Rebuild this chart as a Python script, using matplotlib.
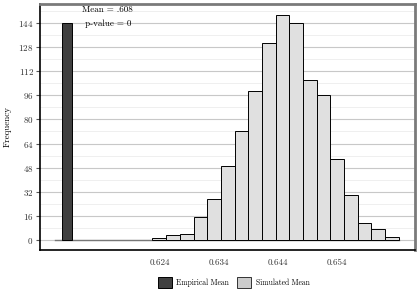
import matplotlib
matplotlib.use("Agg")
import matplotlib.pyplot as plt
from matplotlib.patches import Patch
from matplotlib.ticker import MultipleLocator

# Données
sim_counts = [1, 3, 4, 15, 27, 49, 72, 99, 131, 149, 144, 106, 96, 54, 30, 11, 7, 2]
sim_start = 0.62276
sim_width = 0.002317
emp_mean = 0.6083
emp_count = 144
emp_width = 0.0016
x_ticks = [0.624, 0.634, 0.644, 0.654]
y_ticks = [0, 16, 32, 48, 64, 80, 96, 112, 128, 144]

plt.rcParams['font.family'] = ['cmr10', 'DejaVu Serif']
plt.rcParams['axes.formatter.use_mathtext'] = True

fig = plt.figure(figsize=(4.2, 3), dpi=100)
ax = fig.add_axes([0.095, 0.167, 0.893, 0.82])

sim_x = [sim_start + i * sim_width for i in range(len(sim_counts))]
ax.bar(sim_x, sim_counts, width=sim_width, align='edge', color='#e0e0e0',
       edgecolor='black', linewidth=0.7, zorder=3)
ax.bar([emp_mean], [emp_count], width=emp_width, color='#404040',
       edgecolor='black', linewidth=0.7, zorder=3)
ax.plot([0.6063, sim_x[-1] + sim_width], [0, 0], color='#777777', lw=1, zorder=2)

ax.set_xlim(0.6037, 0.6672)
ax.set_ylim(-6.6, 156.7)
ax.set_xticks(x_ticks)
ax.set_xticklabels(['0.624', '0.634', '0.644', '0.654'])
ax.set_yticks(y_ticks)
ax.yaxis.set_minor_locator(MultipleLocator(8))
ax.tick_params(axis='both', which='major', labelsize=6.5, length=3,
               color='#555555', labelcolor='#333333', pad=1.5)
ax.tick_params(axis='y', which='minor', length=0)
ax.tick_params(axis='x', length=0, pad=6)

# Grille horizontale
ax.grid(axis='y', which='major', color='#c8c8c8', lw=0.8, zorder=0)
ax.grid(axis='y', which='minor', color='#ececec', lw=0.6, zorder=0)
ax.set_axisbelow(True)

for side in ['left', 'bottom']:
    ax.spines[side].set_color('black')
    ax.spines[side].set_linewidth(1.2)
for side in ['top', 'right']:
    ax.spines[side].set_color('#7a7a7a')
    ax.spines[side].set_linewidth(2)

ax.set_ylabel("Frequency", fontsize=6.5, labelpad=5)

ax.text(0.6152, 152.6, "Mean = .608", ha='center', va='center', fontsize=6.5)
ax.text(0.6152, 143.3, "p-value = 0", ha='center', va='center', fontsize=6.5)

handles = [Patch(facecolor='#404040', edgecolor='black', lw=0.7, label='Empirical Mean'),
           Patch(facecolor='#cccccc', edgecolor='#333333', lw=0.7, label='Simulated Mean')]
fig.legend(handles=handles, loc='center', bbox_to_anchor=(0.556, 0.057), ncol=2,
           frameon=False, fontsize=5.5, handlelength=1.85, handleheight=1.85,
           columnspacing=1.0, handletextpad=0.6)

plt.savefig("out.png", dpi=100)
